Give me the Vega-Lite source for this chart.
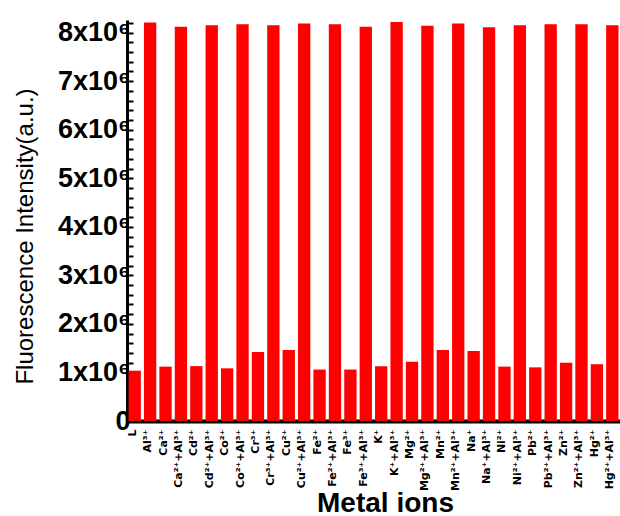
{
  "$schema": "https://vega.github.io/schema/vega-lite/v6.json",
  "width": 493,
  "height": 401,
  "autosize": {"type": "none"},
  "padding": {"left": 127, "top": 20, "right": 0, "bottom": 95},
  "background": "white",
  "config": {
    "view": {"stroke": null},
    "axis": {"labelFont": "Liberation Sans", "titleFont": "Liberation Sans", "labelColor": "black", "titleColor": "black"}
  },
  "data": {
    "values": [
      {"ion": "L", "value": 1036000},
      {"ion": "Al³⁺", "value": 8210000},
      {"ion": "Ca²⁺", "value": 1120000},
      {"ion": "Ca²⁺+Al³⁺", "value": 8120000},
      {"ion": "Cd²⁺", "value": 1130000},
      {"ion": "Cd²⁺+Al³⁺", "value": 8150000},
      {"ion": "Co²⁺", "value": 1085000},
      {"ion": "Co²⁺+Al³⁺", "value": 8170000},
      {"ion": "Cr³⁺", "value": 1420000},
      {"ion": "Cr³⁺+Al³⁺", "value": 8150000},
      {"ion": "Cu²⁺", "value": 1460000},
      {"ion": "Cu²⁺+Al³⁺", "value": 8190000},
      {"ion": "Fe²⁺", "value": 1060000},
      {"ion": "Fe²⁺+Al³⁺", "value": 8170000},
      {"ion": "Fe³⁺", "value": 1060000},
      {"ion": "Fe³⁺+Al³⁺", "value": 8120000},
      {"ion": "K⁺", "value": 1130000},
      {"ion": "K⁺+Al³⁺", "value": 8220000},
      {"ion": "Mg²⁺", "value": 1220000},
      {"ion": "Mg²⁺+Al³⁺", "value": 8140000},
      {"ion": "Mn²⁺", "value": 1460000},
      {"ion": "Mn²⁺+Al³⁺", "value": 8190000},
      {"ion": "Na⁺", "value": 1440000},
      {"ion": "Na⁺+Al³⁺", "value": 8110000},
      {"ion": "Ni²⁺", "value": 1120000},
      {"ion": "Ni²⁺+Al³⁺", "value": 8150000},
      {"ion": "Pb²⁺", "value": 1105000},
      {"ion": "Pb²⁺+Al³⁺", "value": 8170000},
      {"ion": "Zn²⁺", "value": 1200000},
      {"ion": "Zn²⁺+Al³⁺", "value": 8170000},
      {"ion": "Hg²⁺", "value": 1170000},
      {"ion": "Hg²⁺+Al³⁺", "value": 8150000}
    ]
  },
  "mark": {"type": "bar", "color": "#ff0000"},
  "encoding": {
    "x": {
      "field": "ion",
      "type": "nominal",
      "sort": null,
      "scale": {"paddingInner": 0.2, "paddingOuter": 0.1},
      "axis": {
        "title": "Metal ions",
        "titleFontSize": 28,
        "titleFontWeight": "bold",
        "titleX": 258,
        "titleY": 90,
        "titleAlign": "center",
        "titleBaseline": "alphabetic",
        "labelAngle": -90,
        "labelFont": "DejaVu Sans",
        "labelFontSize": 11,
        "labelFontWeight": "bold",
        "labelPadding": 8,
        "labelOffset": -2,
        "labelOverlap": false,
        "labelBound": false,
        "ticks": false,
        "domainColor": "black",
        "domainWidth": 4
      }
    },
    "y": {
      "field": "value",
      "type": "quantitative",
      "scale": {"domain": [0, 8260000], "nice": false},
      "axis": {
        "title": "Fluorescence Intensity(a.u.)",
        "titleFontSize": 24,
        "titleFontWeight": "normal",
        "titleAngle": -90,
        "titleX": -102,
        "titleY": 216,
        "titleAlign": "center",
        "titleBaseline": "middle",
        "values": [0, 200000, 400000, 600000, 800000, 1000000, 1200000, 1400000, 1600000, 1800000, 2000000, 2200000, 2400000, 2600000, 2800000, 3000000, 3200000, 3400000, 3600000, 3800000, 4000000, 4200000, 4400000, 4600000, 4800000, 5000000, 5200000, 5400000, 5600000, 5800000, 6000000, 6200000, 6400000, 6600000, 6800000, 7000000, 7200000, 7400000, 7600000, 7800000, 8000000, 8200000],
        "labelExpr": "datum.value == 0 ? '0' : (round(datum.value / 100000) % 10 == 0 ? format(datum.value / 1000000, 'd') + 'x10⁶' : '')",
        "labelFontSize": 27,
        "labelFontWeight": "bold",
        "labelPadding": 3,
        "labelOverlap": false,
        "tickSize": -6,
        "tickWidth": 2,
        "tickColor": "black",
        "domainColor": "black",
        "domainWidth": 3,
        "grid": false
      }
    }
  }
}
